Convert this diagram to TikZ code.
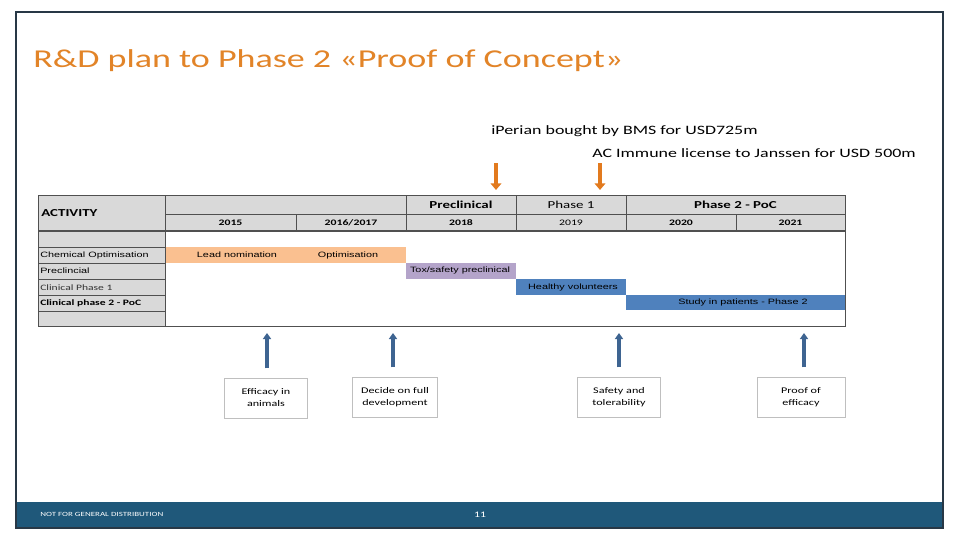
\documentclass[tikz,border=0pt]{standalone}
\usepackage{fontspec}
\setmainfont{Carlito}[FakeStretch=1.4]
\newfontfamily\arialf{Liberation Sans}[FakeStretch=1.4]
\usetikzlibrary{arrows.meta}

\definecolor{titleorange}{RGB}{226,132,40}
\definecolor{hdrgrey}{RGB}{217,217,217}
\definecolor{gridgrey}{RGB}{80,80,80}
\definecolor{leadorange}{RGB}{250,192,144}
\definecolor{toxpurple}{RGB}{180,164,202}
\definecolor{barblue}{RGB}{79,129,189}
\definecolor{footblue}{RGB}{31,88,122}
\definecolor{framegrey}{RGB}{40,56,70}
\definecolor{msblue}{RGB}{62,100,145}
\definecolor{dealorange}{RGB}{226,122,30}

\begin{document}
\begin{tikzpicture}[x=0.75pt,y=0.75pt,yscale=-1,
  hdr/.style={fill=hdrgrey,draw=gridgrey,line width=0.5pt},
  cell/.style={inner sep=0pt,font=\fontsize{5.8}{7}\selectfont\arialf},
  hdrtext/.style={inner sep=0pt,font=\fontsize{8}{9}\selectfont\bfseries},
  yrtext/.style={inner sep=0pt,font=\fontsize{6.3}{7}\selectfont\bfseries},
  deal/.style={inner sep=0pt,anchor=west,font=\fontsize{9.6}{11}\selectfont},
  milestone/.style={draw=black!25,fill=white,line width=0.6pt,align=center,
    minimum width=62pt,minimum height=30pt,inner sep=1pt,
    font=\fontsize{6.5}{9}\selectfont},
  msarrow/.style={draw=msblue,line width=2.6pt,-{Triangle[width=6pt,length=4.5pt]}},
  dealarrow/.style={draw=dealorange,line width=3pt,-{Triangle[width=8pt,length=5pt]}}]
\useasboundingbox (0,0) rectangle (960,540);

%Slide frame and footer
\fill[white] (0,0) rectangle (960,540);
\fill[footblue] (16,502) rectangle (943,528);
\draw[framegrey,line width=0.9pt] (16,12) rectangle (943,528);
\node[inner sep=0pt,anchor=west,text=white,font=\fontsize{4.8}{6}\selectfont] (nfgd) at (40,514) {NOT FOR GENERAL DISTRIBUTION};
\node[inner sep=0pt,text=white,font=\fontsize{6.3}{7}\selectfont] (pageno) at (480,515) {11};

% Title
\node[inner sep=0pt,anchor=west,text=titleorange,font=\fontsize{19.3}{23}\selectfont] (title) at (33,61) {R\&D plan to Phase 2 «Proof of Concept»};

% Deals
\node[deal] (iperian) at (491,131) {iPerian bought by BMS for USD725m};
\node[deal] (acimmune) at (592,153) {AC Immune license to Janssen for USD 500m};
\coordinate (dealA) at (496,163);
\coordinate (dealAend) at (496,190);
\coordinate (dealB) at (600,163);
\coordinate (dealBend) at (600,190);
\draw[dealarrow] (dealA) -- (dealAend);
\draw[dealarrow] (dealB) -- (dealBend);

%Table: left column
\draw[hdr] (38,195) rectangle (165,231);
\node[inner sep=0pt,anchor=west,font=\fontsize{8}{9}\selectfont\bfseries] (activity) at (41,213) {ACTIVITY};
\foreach \ya/\yb in {231/247,247/263,263/279,279/295,295/311,311/326}
  \draw[hdr] (38,\ya) rectangle (165,\yb);
\node[cell,anchor=west] (chem) at (40,255) {Chemical Optimisation};
\node[cell,anchor=west] (precl) at (40,270.5) {Preclincial};
\node[inner sep=0pt,anchor=west,text=black!80,font=\fontsize{6.2}{7}\selectfont] (clin1) at (40,287.5) {Clinical Phase 1};
\node[inner sep=0pt,anchor=west,font=\fontsize{6.2}{7}\selectfont\bfseries] (clin2) at (40,303) {Clinical phase 2 - PoC};

%Table: header
\draw[hdr] (165,195) rectangle (406,214);
\draw[hdr] (406,195) rectangle (516,214);
\draw[hdr] (516,195) rectangle (626,214);
\draw[hdr] (626,195) rectangle (845,214);
\node[hdrtext] (hpre) at (461,205) {Preclinical};
\node[inner sep=0pt,font=\fontsize{8}{9}\selectfont] (hph1) at (571,205) {Phase 1};
\node[hdrtext] (hph2) at (735.5,205) {Phase 2 - PoC};
\foreach \yr/\xa/\xb [count=\i] in {2015/165/296,2016\slash2017/296/406,2018/406/516,2020/626/736,2021/736/845}{
  \draw[hdr] (\xa,214) rectangle (\xb,231);
  \node[yrtext] (yr\i) at ({(\xa+\xb)/2},223) {\yr};
}
\draw[hdr] (516,214) rectangle (626,231);
\node[inner sep=0pt,font=\fontsize{6.3}{7}\selectfont] (yr2019) at (571,223) {2019};
\draw[gridgrey,line width=1pt] (38,231) -- (845,231);
\draw[gridgrey,line width=0.6pt] (38,195) rectangle (845,326);

%Bars
\fill[leadorange] (166,247) rectangle (406,263);
\node[cell] (lead) at (237,255) {Lead nomination};
\node[cell] (optim) at (348,255) {Optimisation};
\fill[toxpurple] (406,263) rectangle (516,279);
\node[cell] (tox) at (460,270) {Tox/safety preclinical};
\fill[barblue] (516,279) rectangle (626,295);
\node[cell] (healthy) at (573,287) {Healthy volunteers};
\fill[barblue] (626,295) rectangle (845,310);
\node[cell] (patients) at (743,302.5) {Study in patients - Phase 2};

% Milestones
\node[milestone] (efficacy) at (266,398) {Efficacy in\\animals};
\node[milestone,minimum width=64pt] (decide) at (395,397) {Decide on full\\development};
\node[milestone] (safety) at (619,397) {Safety and\\tolerability};
\node[milestone,minimum width=66pt] (proof) at (801,397) {Proof of\\efficacy};
\coordinate (effTip) at (267,333);
\coordinate (decTip) at (393,333);
\coordinate (safTip) at (619,333);
\coordinate (proTip) at (804,333);
\draw[msarrow] ([yshift=-7pt]efficacy.north -| effTip) -- (effTip);
\draw[msarrow] ([yshift=-7pt]decide.north -| decTip) -- (decTip);
\draw[msarrow] ([yshift=-7pt]safety.north -| safTip) -- (safTip);
\draw[msarrow] ([yshift=-7pt]proof.north -| proTip) -- (proTip);

\end{tikzpicture}
\end{document}
